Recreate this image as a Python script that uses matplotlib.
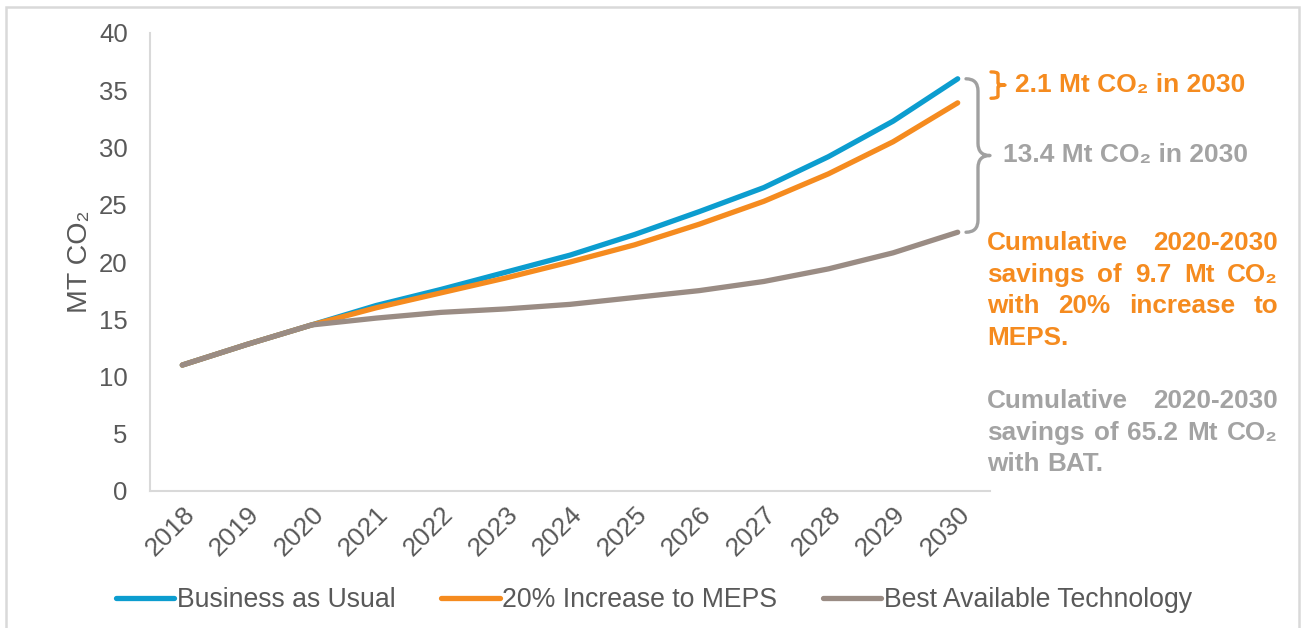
import matplotlib
matplotlib.use("Agg")
import matplotlib.pyplot as plt
from matplotlib.path import Path
from matplotlib.patches import PathPatch, Rectangle
from matplotlib.transforms import blended_transform_factory, ScaledTranslation

plt.rcParams['font.family'] = ['Liberation Sans', 'DejaVu Sans']

years = [2018, 2019, 2020, 2021, 2022, 2023, 2024, 2025, 2026, 2027, 2028, 2029, 2030]
bau = [11.0, 12.8, 14.5, 16.2, 17.6, 19.1, 20.6, 22.4, 24.4, 26.5, 29.2, 32.3, 36.0]
meps = [11.0, 12.8, 14.5, 16.0, 17.3, 18.6, 20.0, 21.5, 23.3, 25.3, 27.7, 30.5, 33.9]
bat = [11.0, 12.8, 14.5, 15.1, 15.6, 15.9, 16.3, 16.9, 17.5, 18.3, 19.4, 20.8, 22.6]
series_names = ["Business as Usual", "20% Increase to MEPS", "Best Available Technology"]
y_ticks = [0, 5, 10, 15, 20, 25, 30, 35, 40]

BLUE = "#0C9DCF"
ORANGE = "#F58B1F"
TAUPE = "#9A8C84"
TXT = "#595959"
GREY_TXT = "#A3A3A3"

W, H = 1302, 628
fig = plt.figure(figsize=(W / 100, H / 100), dpi=100)
ax = fig.add_axes([150 / W, 1 - 491 / H, 840 / W, 458 / H])

# outer frame
fig.patches.append(Rectangle((6 / W, -0.05), 1293 / W, 1 - 7 / H + 0.05,
                             transform=fig.transFigure, fill=False,
                             edgecolor="#D9D9D9", lw=1.8))

lines = []
for vals, col, name in [(bau, BLUE, series_names[0]),
                        (meps, ORANGE, series_names[1]),
                        (bat, TAUPE, series_names[2])]:
    ln, = ax.plot(years, vals, color=col, lw=3.8, solid_capstyle="round",
                  solid_joinstyle="round", label=name)
    lines.append(ln)

ax.set_xlim(years[0] - 0.5, years[-1] + 0.5)
ax.set_ylim(0, 40)
ax.set_yticks(y_ticks)
ax.set_xticks(years)
ax.set_xticklabels([str(y) for y in years], rotation=45, ha="right",
                   rotation_mode="anchor")
shift = ScaledTranslation(-5 / 100, 0, fig.dpi_scale_trans)
for lbl in ax.get_xticklabels():
    lbl.set_transform(lbl.get_transform() + shift)
ax.tick_params(axis="y", length=0, pad=16, labelsize=18.5, labelcolor=TXT)
ax.tick_params(axis="x", length=0, pad=8, labelsize=19, labelcolor=TXT)
for s in ["top", "right"]:
    ax.spines[s].set_visible(False)
for s in ["left", "bottom"]:
    ax.spines[s].set_color("#D9D9D9")
    ax.spines[s].set_linewidth(1.5)
ax.set_ylabel("MT CO₂", fontsize=20.5, color=TXT, labelpad=4)

fig.legend(handles=lines, loc="center", bbox_to_anchor=(654 / W, 1 - 600 / H),
           ncol=3, frameon=False, fontsize=19.2, handlelength=2.2,
           handletextpad=0.1, columnspacing=1.7, labelcolor=TXT)


def brace(x0, x1, ylo, yhi, color, lw):
    """Right-pointing curly brace between data heights ylo and yhi."""
    tr = blended_transform_factory(fig.dpi_scale_trans, ax.transData)
    xa, xb = x0 / 100, x1 / 100
    xm = (xa + xb) / 2
    ym = (ylo + yhi) / 2
    r = (yhi - ylo) * 0.08
    verts = [(xa, yhi), (xm, yhi), (xm, yhi - r), (xm, yhi - r),
             (xm, ym + r), (xm, ym), (xb, ym), (xm, ym), (xm, ym - r),
             (xm, ylo + r), (xm, ylo + r), (xm, ylo), (xa, ylo)]
    codes = [Path.MOVETO, Path.CURVE3, Path.CURVE3, Path.LINETO,
             Path.LINETO, Path.CURVE3, Path.CURVE3, Path.CURVE3, Path.CURVE3,
             Path.LINETO, Path.LINETO, Path.CURVE3, Path.CURVE3]
    p = PathPatch(Path(verts, codes), fill=False, edgecolor=color, lw=lw,
                  transform=tr, clip_on=False, capstyle="round",
                  joinstyle="round")
    ax.add_patch(p)


brace(966, 990, bat[-1], bau[-1], "#A0A0A0", 2.4)
brace(991, 1005, 34.3, 36.6, ORANGE, 2.4)

fig.text(1015 / W, 1 - 85 / H, "2.1 Mt CO₂ in 2030", color=ORANGE,
         fontsize=19, fontweight="bold", va="center", ha="left")
fig.text(1003 / W, 1 - 155 / H, "13.4 Mt CO₂ in 2030", color=GREY_TXT,
         fontsize=19, fontweight="bold", va="center", ha="left")


def justified(lines_, x_left, x_right, y_centers, color):
    fig.canvas.draw()
    rend = fig.canvas.get_renderer()
    for i, (line, yc) in enumerate(zip(lines_, y_centers)):
        words = line.split(" ")
        objs = [fig.text(0, 1 - yc / H, w, color=color, fontsize=18.8,
                         fontweight="bold", va="center", ha="left")
                for w in words]
        widths = [o.get_window_extent(rend).width for o in objs]
        is_last = i == len(lines_) - 1
        if is_last or len(words) == 1:
            space = rend.points_to_pixels(18.8) * 0.278
        else:
            space = (x_right - x_left - sum(widths)) / (len(words) - 1)
        x = x_left
        for o, wdt in zip(objs, widths):
            o.set_x(x / W)
            x += wdt + space


justified(["Cumulative 2020-2030", "savings of 9.7 Mt CO₂",
           "with 20% increase to", "MEPS."],
          987, 1278, [243, 275, 306, 338], ORANGE)
justified(["Cumulative 2020-2030", "savings of 65.2 Mt CO₂", "with BAT."],
          987, 1278, [401, 433, 464], GREY_TXT)

fig.savefig("out.png", dpi=100)
